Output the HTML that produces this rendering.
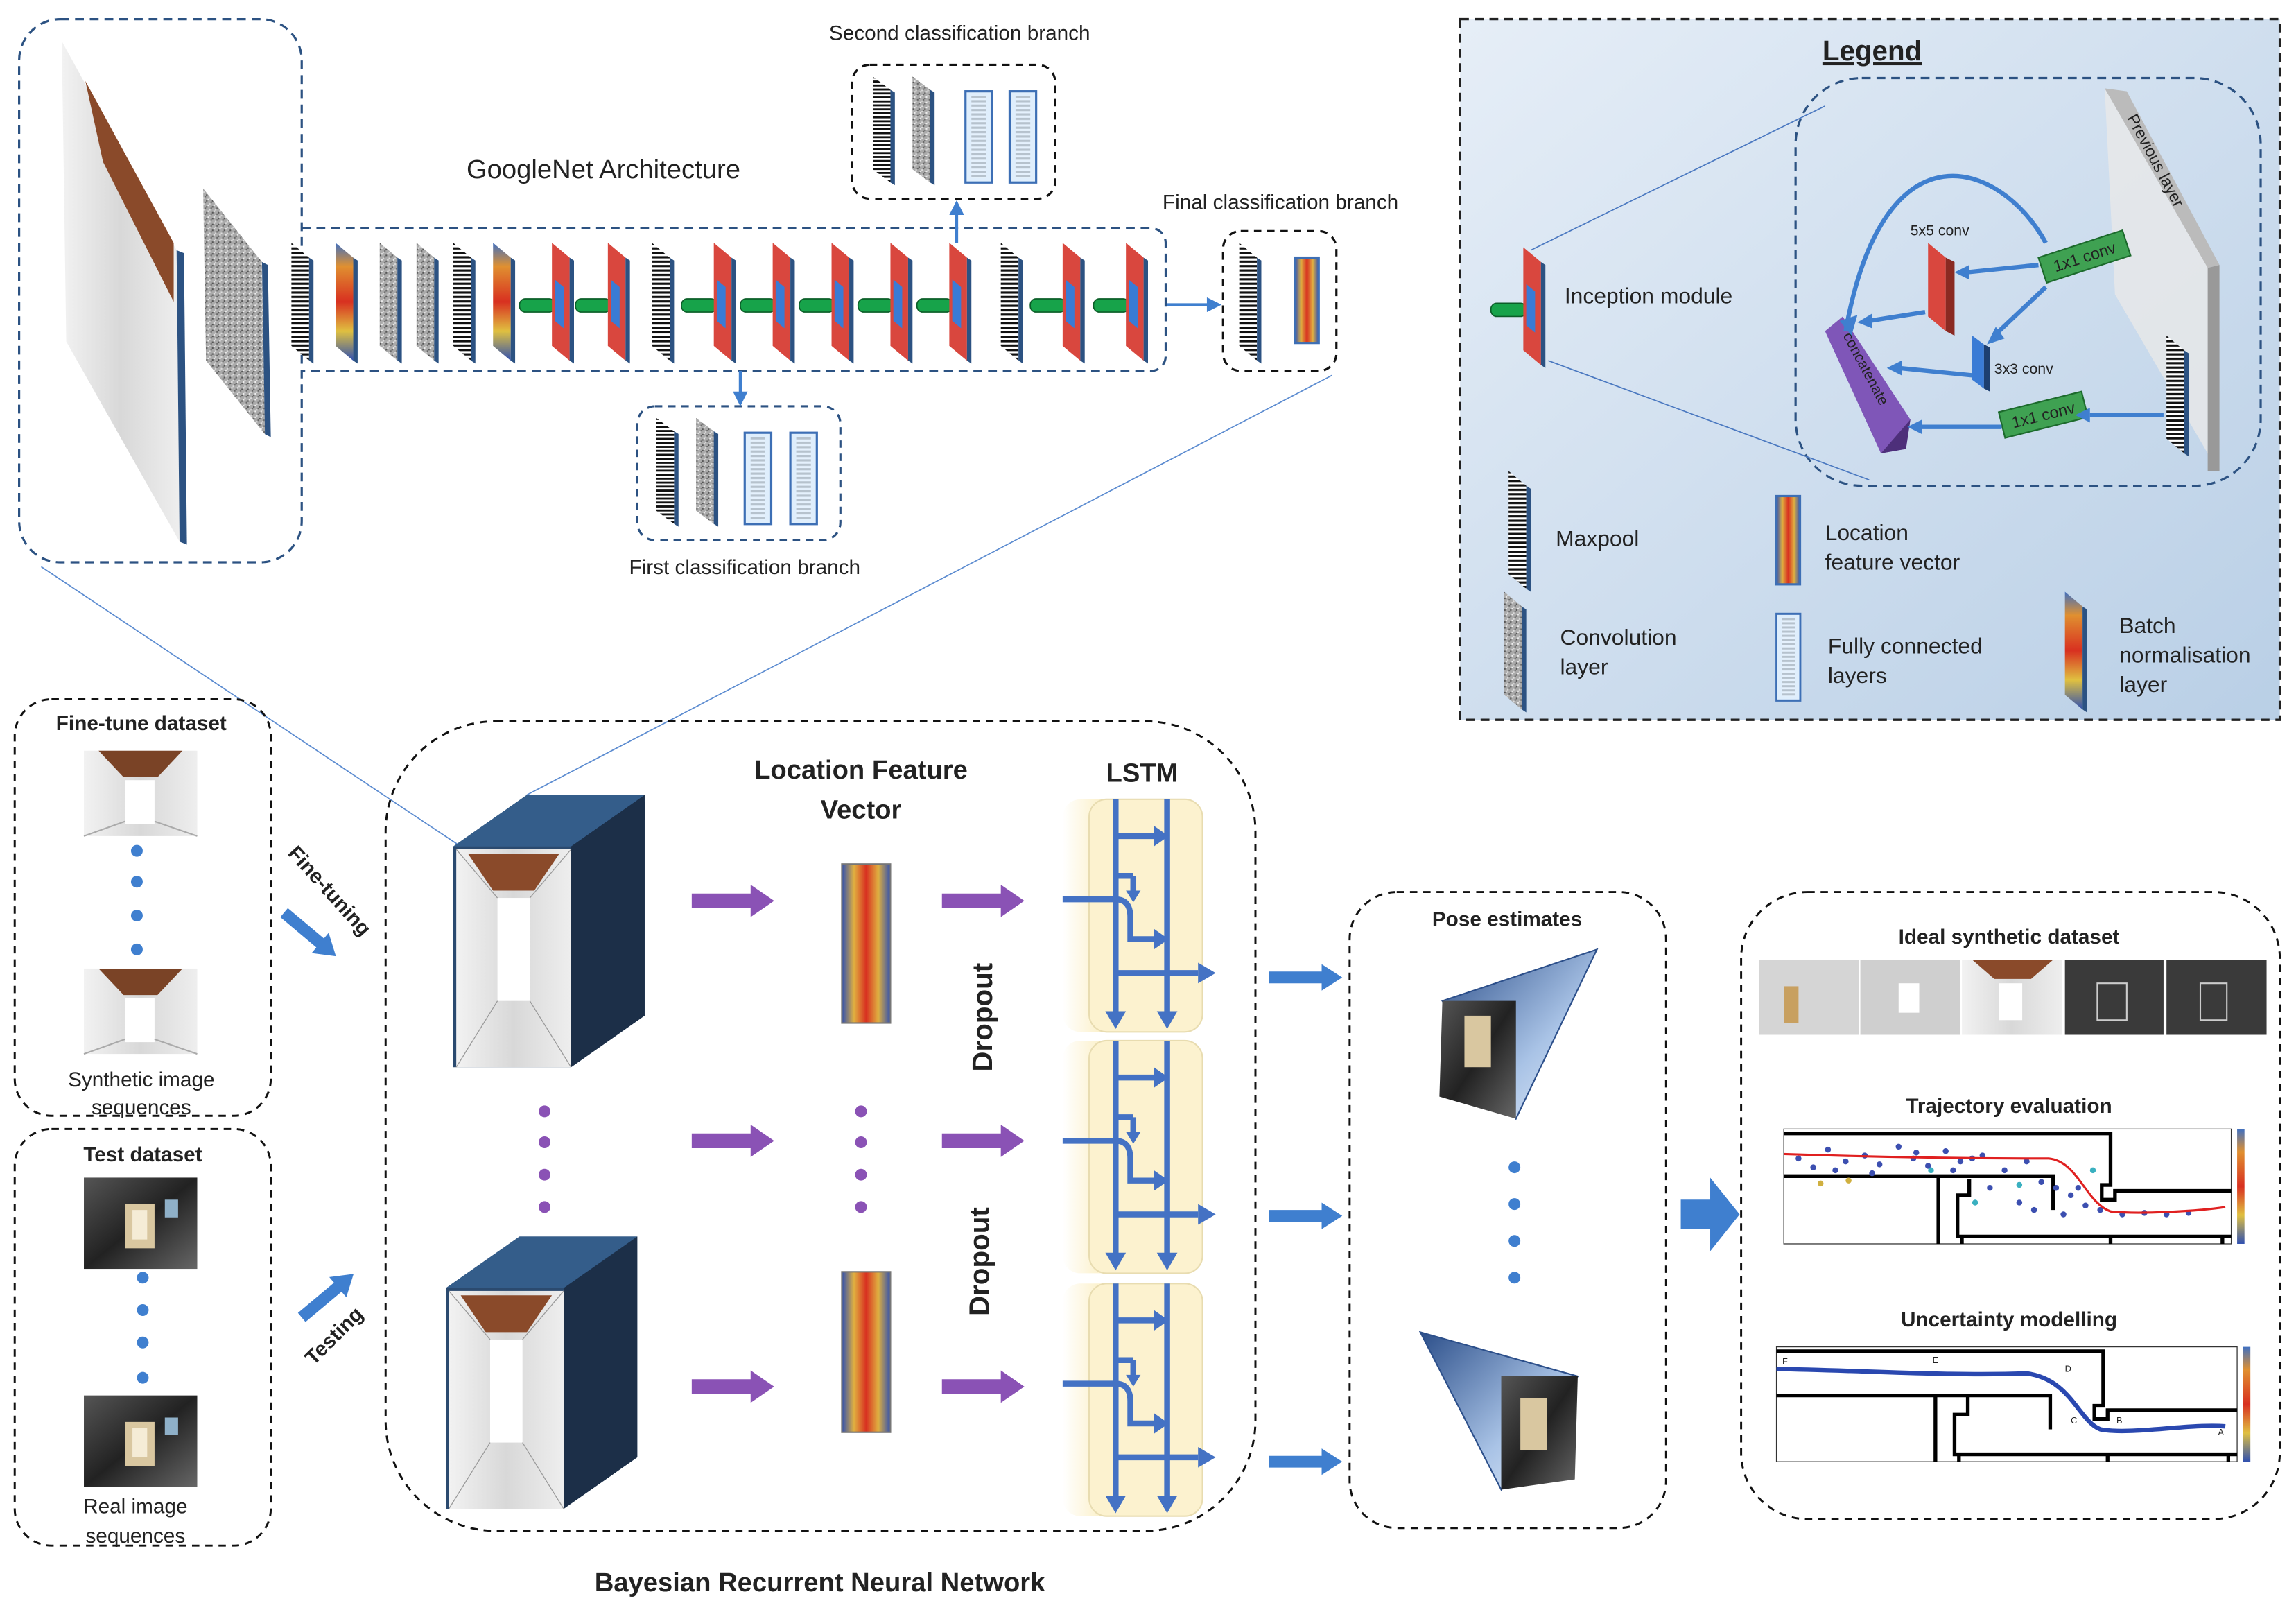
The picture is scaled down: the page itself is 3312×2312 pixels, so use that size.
<!DOCTYPE html>
<html><head><meta charset="utf-8"><style>
html,body{margin:0;padding:0;background:#fff}
svg{display:block}
text{font-family:"Liberation Sans",sans-serif;fill:#222}
.b{font-weight:bold}
</style></head><body>
<svg width="3312" height="2312" viewBox="0 0 1560 1089" preserveAspectRatio="none" xmlns="http://www.w3.org/2000/svg">
<defs>
<pattern id="stripe" width="4" height="3" patternUnits="userSpaceOnUse"><rect width="4" height="3" fill="#fff"/><rect width="4" height="1.5" fill="#111"/></pattern>
<pattern id="noise" width="4" height="4" patternUnits="userSpaceOnUse"><rect width="4" height="4" fill="#aaa"/><rect width="1" height="1" fill="#555"/><rect x="2" y="2" width="1" height="1" fill="#ddd"/><rect x="3" y="1" width="1" height="1" fill="#666"/><rect x="1" y="3" width="1" height="1" fill="#eee"/></pattern>
<linearGradient id="heath" x1="0" y1="0" x2="1" y2="0"><stop offset="0" stop-color="#3050b0"/><stop offset="0.25" stop-color="#e0b040"/><stop offset="0.5" stop-color="#d83020"/><stop offset="0.75" stop-color="#e0b040"/><stop offset="1" stop-color="#3050b0"/></linearGradient>
<linearGradient id="heatv" x1="0" y1="0" x2="0" y2="1"><stop offset="0" stop-color="#4070c0"/><stop offset="0.2" stop-color="#e09030"/><stop offset="0.5" stop-color="#d83020"/><stop offset="0.75" stop-color="#e0c040"/><stop offset="1" stop-color="#3050b0"/></linearGradient>
<linearGradient id="leg" x1="0" y1="0" x2="1" y2="1"><stop offset="0" stop-color="#e6eef7"/><stop offset="1" stop-color="#b9cfe6"/></linearGradient>
<linearGradient id="corr" x1="0" y1="0" x2="1" y2="0"><stop offset="0" stop-color="#f2f2f2"/><stop offset="0.5" stop-color="#d8d8d8"/><stop offset="1" stop-color="#eeeeee"/></linearGradient>
<linearGradient id="dark" x1="0" y1="0" x2="1" y2="1"><stop offset="0" stop-color="#555"/><stop offset="0.5" stop-color="#222"/><stop offset="1" stop-color="#666"/></linearGradient>
<linearGradient id="pyr" x1="0" y1="0" x2="1" y2="1"><stop offset="0" stop-color="#2c4f8a"/><stop offset="0.6" stop-color="#a9c3e6"/><stop offset="1" stop-color="#e8f0fa"/></linearGradient>
<linearGradient id="cream" x1="0" y1="0" x2="1" y2="0"><stop offset="0" stop-color="#fff"/><stop offset="0.25" stop-color="#fcf2cf"/><stop offset="1" stop-color="#fcf2cf"/></linearGradient>
<g id="mp"><polygon points="0,0 12,10 12,80 0,70" fill="url(#stripe)"/><polygon points="12,10 15,12 15,82 12,80" fill="#2c5282"/></g>
<g id="cv"><polygon points="0,0 12,10 12,80 0,70" fill="url(#noise)"/><polygon points="12,10 15,12 15,82 12,80" fill="#2c5282"/></g>
<g id="bn"><polygon points="0,0 12,10 12,80 0,70" fill="url(#heatv)"/><polygon points="12,10 15,12 15,82 12,80" fill="#2c5282"/></g>
<g id="inc"><rect x="-22" y="38" width="24" height="9" rx="4" fill="#17a34a" stroke="#0b5e28" stroke-width="0.8"/><polygon points="0,0 12,10 12,80 0,70" fill="#d9473e"/><polygon points="2,25 8,30 8,58 2,53" fill="#3a7bd5"/><polygon points="12,10 15,12 15,82 12,80" fill="#2c5282"/></g>
<g id="fc"><rect x="0" y="0" width="18" height="62" fill="#dfeefc" stroke="#3d6fb5" stroke-width="1.5"/><rect x="4" y="3" width="10" height="56" fill="url(#stripe)" opacity="0.2"/></g>
<g id="barr"><polygon points="0,-4 36,-4 36,-9 50,0 36,9 36,4 0,4" fill="#3f7fcf"/></g>
<g id="parr"><polygon points="0,-5 40,-5 40,-11 56,0 40,11 40,5 0,5" fill="#8a52b5"/></g>
<g id="cube"><polygon points="0,35 50,0 130,0 130,150 80,185 0,185" fill="#2b4a6f"/><polygon points="80,35 130,0 130,150 80,185" fill="#1c2f48"/><polygon points="0,35 50,0 130,0 80,35" fill="#345d8a"/><rect x="2" y="37" width="78" height="148" fill="url(#corr)"/><polygon points="10,40 72,40 55,65 27,65" fill="#8a4a2a"/><rect x="30" y="70" width="22" height="70" fill="#fff"/><line x1="2" y1="37" x2="30" y2="70" stroke="#999" stroke-width="0.6"/><line x1="80" y1="37" x2="52" y2="70" stroke="#999" stroke-width="0.6"/><line x1="2" y1="185" x2="30" y2="140" stroke="#999" stroke-width="0.6"/><line x1="80" y1="185" x2="52" y2="140" stroke="#999" stroke-width="0.6"/></g>
<g id="synimg"><rect width="77" height="58" fill="url(#corr)"/><polygon points="10,0 67,0 50,18 27,18" fill="#7a4326"/><rect x="28" y="20" width="20" height="30" fill="#fff"/><line x1="0" y1="58" x2="28" y2="48" stroke="#aaa"/><line x1="77" y1="58" x2="48" y2="48" stroke="#aaa"/></g>
<g id="realimg"><rect width="77" height="62" fill="url(#dark)"/><rect x="28" y="18" width="20" height="30" fill="#d9c7a0"/><rect x="33" y="22" width="10" height="20" fill="#f5ecd6"/><rect x="55" y="15" width="9" height="12" fill="#8fb0c8"/></g>
<g id="lstm"><rect x="0" y="0" width="95" height="158" rx="12" fill="url(#cream)"/><rect x="18" y="0" width="77" height="158" rx="12" fill="#fcf2cf" stroke="#e8dcb0" stroke-width="1"/>
<g stroke="#4472c4" stroke-width="4" fill="none"><line x1="36" y1="0" x2="36" y2="146"/><line x1="71" y1="0" x2="71" y2="146"/><line x1="36" y1="25" x2="62" y2="25"/><line x1="36" y1="52" x2="48" y2="52"/><path d="M0,68 H36 Q46,68 46,80 V95 H62"/><line x1="36" y1="118" x2="92" y2="118"/><path d="M48,52 V65"/></g>
<g fill="#4472c4"><polygon points="62,18 72,25 62,32"/><polygon points="62,88 72,95 62,102"/><polygon points="43,62 48,70 53,62"/><polygon points="29,144 36,156 43,144"/><polygon points="64,144 71,156 78,144"/><polygon points="92,111 104,118 92,125"/></g></g>
</defs>

<rect x="13" y="13" width="192" height="369" rx="28" fill="none" stroke="#2c5282" stroke-width="1.5" stroke-dasharray="6,4"/>
<polygon points="42,28 120,170 122,368 45,232" fill="url(#corr)"/>
<polygon points="58,55 118,165 118,205 70,110" fill="#8a4a2a"/>
<polygon points="120,170 125,172 127,370 122,368" fill="#2c5282"/>
<polygon points="138,128 178,178 180,295 140,245" fill="url(#noise)"/>
<polygon points="178,178 182,180 184,297 180,295" fill="#2c5282"/>
<path d="M205,155 H782 a10,10 0 0 1 10,10 V242 a10,10 0 0 1 -10,10 H205" fill="none" stroke="#2c5282" stroke-width="1.5" stroke-dasharray="6,4"/>
<text x="410" y="121" font-size="18" text-anchor="middle">GoogleNet Architecture</text>
<use href="#mp" x="198" y="165"/><use href="#bn" x="228" y="165"/><use href="#cv" x="258" y="165"/><use href="#cv" x="283" y="165"/><use href="#mp" x="308" y="165"/><use href="#bn" x="335" y="165"/>
<use href="#inc" x="375" y="165"/><use href="#inc" x="413" y="165"/><use href="#mp" x="443" y="165"/><use href="#inc" x="485" y="165"/><use href="#inc" x="525" y="165"/><use href="#inc" x="565" y="165"/><use href="#inc" x="605" y="165"/><use href="#inc" x="645" y="165"/><use href="#mp" x="680" y="165"/><use href="#inc" x="722" y="165"/><use href="#inc" x="765" y="165"/>
<text x="652" y="27" font-size="14" text-anchor="middle">Second classification branch</text>
<rect x="579" y="44" width="138" height="91" rx="12" fill="none" stroke="#111" stroke-width="1.5" stroke-dasharray="5,4"/>
<g transform="translate(593,52) scale(1,0.9)"><use href="#mp"/></g><g transform="translate(620,52) scale(1,0.9)"><use href="#cv"/></g>
<use href="#fc" x="656" y="62"/><use href="#fc" x="686" y="62"/>
<line x1="650" y1="165" x2="650" y2="145" stroke="#3f7fcf" stroke-width="2"/><polygon points="645,146 650,136 655,146" fill="#3f7fcf"/>
<rect x="433" y="276" width="138" height="91" rx="12" fill="none" stroke="#2c5282" stroke-width="1.5" stroke-dasharray="5,4"/>
<g transform="translate(446,284) scale(1,0.9)"><use href="#mp"/></g><g transform="translate(473,284) scale(1,0.9)"><use href="#cv"/></g>
<use href="#fc" x="506" y="294"/><use href="#fc" x="537" y="294"/>
<line x1="503" y1="252" x2="503" y2="268" stroke="#3f7fcf" stroke-width="2"/><polygon points="498,266 503,276 508,266" fill="#3f7fcf"/>
<text x="506" y="390" font-size="14" text-anchor="middle">First classification branch</text>
<text x="870" y="142" font-size="14" text-anchor="middle">Final classification branch</text>
<rect x="831" y="157" width="77" height="95" rx="12" fill="none" stroke="#111" stroke-width="1.5" stroke-dasharray="5,4"/>
<use href="#mp" x="842" y="165"/>
<rect x="880" y="175" width="16" height="58" fill="url(#heath)" stroke="#3d6fb5" stroke-width="1.5"/>
<line x1="793" y1="207" x2="822" y2="207" stroke="#3f7fcf" stroke-width="2"/><polygon points="820,202 830,207 820,212" fill="#3f7fcf"/>
<line x1="28" y1="385" x2="313" y2="575" stroke="#5b8bd0" stroke-width="0.8"/>
<line x1="358" y1="540" x2="905" y2="255" stroke="#5b8bd0" stroke-width="0.8"/>

<rect x="992" y="13" width="557" height="476" fill="url(#leg)" stroke="#222" stroke-width="1.6" stroke-dasharray="6,4"/>
<text x="1272" y="41" font-size="19" text-anchor="middle" class="b" text-decoration="underline">Legend</text>
<rect x="1220" y="53" width="316" height="277" rx="45" fill="none" stroke="#2c5282" stroke-width="1.5" stroke-dasharray="6,4"/>
<line x1="1040" y1="170" x2="1240" y2="72" stroke="#4a78c0" stroke-width="0.8"/>
<line x1="1052" y1="245" x2="1270" y2="326" stroke="#4a78c0" stroke-width="0.8"/>
<use href="#inc" x="1035" y="168"/>
<text x="1063" y="206" font-size="15">Inception module</text>
<polygon points="1430,60 1500,180 1507,320 1437,200" fill="#e8e8e8" opacity="0.8"/>
<polygon points="1430,60 1445,62 1508,180 1500,182" fill="#bbb"/>
<polygon points="1500,182 1508,180 1508,320 1500,320" fill="#999"/>
<text transform="translate(1445,80) rotate(62)" font-size="11">Previous layer</text>
<use href="#mp" x="1472" y="228"/>
<polygon points="1310,165 1322,175 1322,225 1310,215" fill="#d9473e"/><polygon points="1322,175 1328,178 1328,228 1322,225" fill="#8a2a22"/>
<text x="1298" y="160" font-size="10">5x5 conv</text>
<g transform="translate(1385,175) rotate(-18)"><rect width="60" height="18" fill="#3fa152" stroke="#1c6a2c"/><text x="30" y="13" font-size="11" text-anchor="middle">1x1 conv</text></g>
<g transform="translate(1358,280) rotate(-14)"><rect width="58" height="18" fill="#3fa152" stroke="#1c6a2c"/><text x="29" y="13" font-size="11" text-anchor="middle">1x1 conv</text></g>
<polygon points="1340,228 1348,234 1348,264 1340,258" fill="#3a7bd5"/><polygon points="1348,234 1352,236 1352,266 1348,264" fill="#1d3f70"/>
<text x="1355" y="254" font-size="10">3x3 conv</text>
<polygon points="1240,225 1252,215 1298,285 1295,305 1278,308" fill="#7f56b8"/><polygon points="1278,308 1295,305 1298,285" fill="#4d2f7a"/>
<text transform="translate(1252,228) rotate(62)" font-size="10">concatenate</text>
<g stroke="#3f7fcf" stroke-width="3" fill="none">
<path d="M1254,225 C1280,80 1360,110 1390,165"/>
<line x1="1470" y1="282" x2="1420" y2="282"/><line x1="1360" y1="290" x2="1305" y2="290"/><line x1="1390" y1="195" x2="1355" y2="228"/><line x1="1385" y1="180" x2="1336" y2="185"/><line x1="1340" y1="255" x2="1290" y2="250"/><line x1="1308" y1="212" x2="1270" y2="218"/></g>
<g fill="#3f7fcf"><polygon points="1250,218 1258,228 1262,214"/><polygon points="1420,277 1410,282 1420,287"/><polygon points="1306,285 1296,290 1306,295"/><polygon points="1356,222 1350,234 1362,230"/><polygon points="1338,180 1328,185 1338,190"/><polygon points="1292,245 1282,250 1292,255"/><polygon points="1272,213 1262,219 1272,223"/></g>
<use href="#mp" x="1025" y="320"/><text x="1057" y="371" font-size="15">Maxpool</text>
<use href="#cv" x="1022" y="402"/><text x="1060" y="438" font-size="15">Convolution</text><text x="1060" y="458" font-size="15">layer</text>
<rect x="1207" y="337" width="16" height="60" fill="url(#heath)" stroke="#3d6fb5" stroke-width="1.5"/><text x="1240" y="367" font-size="15">Location</text><text x="1240" y="387" font-size="15">feature vector</text>
<g transform="translate(1207,417) scale(0.9,0.95)"><use href="#fc"/></g><text x="1242" y="444" font-size="15">Fully connected</text><text x="1242" y="464" font-size="15">layers</text>
<use href="#bn" x="1403" y="402"/><text x="1440" y="430" font-size="15">Batch</text><text x="1440" y="450" font-size="15">normalisation</text><text x="1440" y="470" font-size="15">layer</text>

<rect x="10" y="475" width="174" height="283" rx="25" fill="none" stroke="#111" stroke-width="1.4" stroke-dasharray="5,4"/>
<text x="96" y="496" font-size="14" class="b" text-anchor="middle">Fine-tune dataset</text>
<use href="#synimg" x="57" y="510"/>
<g fill="#3f7fcf"><circle cx="93" cy="578" r="4"/><circle cx="93" cy="599" r="4"/><circle cx="93" cy="622" r="4"/><circle cx="93" cy="645" r="4"/></g>
<use href="#synimg" x="57" y="658"/>
<text x="96" y="738" font-size="14" text-anchor="middle">Synthetic image</text><text x="96" y="757" font-size="14" text-anchor="middle">sequences</text>
<rect x="10" y="767" width="174" height="283" rx="25" fill="none" stroke="#111" stroke-width="1.4" stroke-dasharray="5,4"/>
<text x="97" y="789" font-size="14" class="b" text-anchor="middle">Test dataset</text>
<use href="#realimg" x="57" y="800"/>
<g fill="#3f7fcf"><circle cx="97" cy="868" r="4"/><circle cx="97" cy="890" r="4"/><circle cx="97" cy="912" r="4"/><circle cx="97" cy="936" r="4"/></g>
<use href="#realimg" x="57" y="948"/>
<text x="92" y="1028" font-size="14" text-anchor="middle">Real image</text><text x="92" y="1048" font-size="14" text-anchor="middle">sequences</text>
<text transform="translate(195,580) rotate(48)" font-size="14" class="b">Fine-tuning</text>
<g transform="translate(193,620) rotate(40)"><polygon points="0,-4 32,-4 32,-9 46,0 32,9 32,4 0,4" fill="#3f7fcf"/></g>
<g transform="translate(205,895) rotate(-40)"><polygon points="0,-4 32,-4 32,-9 46,0 32,9 32,4 0,4" fill="#3f7fcf"/></g>
<text transform="translate(213,928) rotate(-45)" font-size="14" class="b">Testing</text>

<rect x="262" y="490" width="591" height="550" rx="75" fill="none" stroke="#111" stroke-width="1.4" stroke-dasharray="5,4"/>
<text x="420" y="557" font-size="18" class="b" text-anchor="middle">CNN</text>
<text x="585" y="529" font-size="18" class="b" text-anchor="middle">Location Feature</text>
<text x="585" y="556" font-size="18" class="b" text-anchor="middle">Vector</text>
<text x="776" y="531" font-size="18" class="b" text-anchor="middle">LSTM</text>
<use href="#cube" x="308" y="540"/>
<use href="#cube" x="303" y="840"/>
<g fill="#8a52b5"><circle cx="370" cy="755" r="4"/><circle cx="370" cy="776" r="4"/><circle cx="370" cy="798" r="4"/><circle cx="370" cy="820" r="4"/><circle cx="585" cy="755" r="4"/><circle cx="585" cy="776" r="4"/><circle cx="585" cy="798" r="4"/><circle cx="585" cy="820" r="4"/></g>
<use href="#parr" x="470" y="612"/><use href="#parr" x="470" y="775"/><use href="#parr" x="470" y="942"/>
<use href="#parr" x="640" y="612"/><use href="#parr" x="640" y="775"/><use href="#parr" x="640" y="942"/>
<rect x="572" y="587" width="33" height="108" fill="url(#heath)" stroke="#777" stroke-width="1"/>
<rect x="572" y="864" width="33" height="109" fill="url(#heath)" stroke="#777" stroke-width="1"/>
<text transform="translate(674,728) rotate(-90)" font-size="19" class="b">Dropout</text>
<text transform="translate(672,894) rotate(-90)" font-size="19" class="b">Dropout</text>
<use href="#lstm" x="722" y="543"/>
<use href="#lstm" x="722" y="707"/>
<use href="#lstm" x="722" y="872"/>
<use href="#barr" x="862" y="664"/><use href="#barr" x="862" y="826"/><use href="#barr" x="862" y="993"/>
<text x="557" y="1081" font-size="18" class="b" text-anchor="middle">Bayesian Recurrent Neural Network</text>

<rect x="917" y="606" width="215" height="432" rx="32" fill="none" stroke="#111" stroke-width="1.4" stroke-dasharray="5,4"/>
<text x="1024" y="629" font-size="14" class="b" text-anchor="middle">Pose estimates</text>
<polygon points="980,680 1085,645 1030,760" fill="url(#pyr)" stroke="#2c4f8a"/>
<polygon points="980,680 1030,680 1030,760 978,745" fill="url(#dark)"/>
<rect x="995" y="690" width="18" height="35" fill="#d9c7a0"/>
<g fill="#3f7fcf"><circle cx="1029" cy="793" r="4"/><circle cx="1029" cy="818" r="4"/><circle cx="1029" cy="843" r="4"/><circle cx="1029" cy="868" r="4"/></g>
<polygon points="965,905 1072,935 1020,1012" fill="url(#pyr)" stroke="#2c4f8a"/>
<polygon points="1020,935 1072,935 1070,1005 1020,1012" fill="url(#dark)"/>
<rect x="1033" y="950" width="18" height="35" fill="#d9c7a0"/>
<polygon points="1142,815 1162,815 1162,800 1182,825 1162,850 1162,835 1142,835" fill="#3f7fcf"/>

<rect x="1183" y="606" width="366" height="426" rx="45" fill="none" stroke="#111" stroke-width="1.4" stroke-dasharray="5,4"/>
<text x="1365" y="641" font-size="14" class="b" text-anchor="middle">Ideal synthetic dataset</text>
<rect x="1195" y="652" width="68" height="51" fill="#d5d5d5"/><rect x="1212" y="670" width="10" height="25" fill="#c8a060"/>
<rect x="1264" y="652" width="68" height="51" fill="#cfcfcf"/><rect x="1290" y="668" width="14" height="20" fill="#fff"/>
<rect x="1333" y="652" width="68" height="51" fill="url(#corr)"/><polygon points="1340,652 1395,652 1380,665 1355,665" fill="#8a4a2a"/><rect x="1358" y="668" width="16" height="25" fill="#fff"/>
<rect x="1403" y="652" width="67" height="51" fill="#3a3a3a"/><rect x="1425" y="668" width="20" height="25" fill="none" stroke="#ccc"/>
<rect x="1472" y="652" width="68" height="51" fill="#3a3a3a"/><rect x="1495" y="668" width="18" height="25" fill="none" stroke="#ccc"/>
<text x="1365" y="756" font-size="14" class="b" text-anchor="middle">Trajectory evaluation</text>
<g transform="translate(1212,767)">
<rect width="304" height="78" fill="#fff" stroke="#333" stroke-width="0.6"/>
<g stroke="#000" stroke-width="2.5" fill="none"><path d="M0,3 H222 V38 H216 V48 H225 V42 H304"/><path d="M0,32 H183 V55"/><path d="M105,32 V78"/><path d="M126,34 V45 H118 V73 H304"/><path d="M121,73 V78"/><path d="M222,73 V78"/><path d="M298,73 V78"/></g>
<g fill="#3c4fb0">
<circle cx="10" cy="20" r="2"/><circle cx="20" cy="26" r="2"/><circle cx="30" cy="14" r="2"/><circle cx="42" cy="22" r="2"/><circle cx="55" cy="18" r="2"/><circle cx="65" cy="24" r="2"/><circle cx="78" cy="12" r="2"/><circle cx="88" cy="20" r="2"/><circle cx="98" cy="25" r="2"/><circle cx="110" cy="15" r="2"/><circle cx="120" cy="22" r="2"/><circle cx="135" cy="18" r="2"/><circle cx="150" cy="28" r="2"/><circle cx="165" cy="22" r="2"/><circle cx="175" cy="36" r="2"/><circle cx="185" cy="40" r="2"/><circle cx="195" cy="45" r="2"/><circle cx="205" cy="52" r="2"/><circle cx="215" cy="55" r="2"/><circle cx="230" cy="58" r="2"/><circle cx="245" cy="57" r="2"/><circle cx="260" cy="58" r="2"/><circle cx="275" cy="57" r="2"/><circle cx="190" cy="58" r="2"/><circle cx="200" cy="40" r="2"/><circle cx="160" cy="50" r="2"/><circle cx="140" cy="40" r="2"/><circle cx="170" cy="55" r="2"/><circle cx="60" cy="30" r="2"/><circle cx="35" cy="28" r="2"/><circle cx="115" cy="28" r="2"/><circle cx="128" cy="20" r="2"/><circle cx="90" cy="16" r="2"/></g>
<g fill="#3ab0c0"><circle cx="100" cy="28" r="2"/><circle cx="130" cy="50" r="2"/><circle cx="210" cy="28" r="2"/><circle cx="160" cy="38" r="2"/></g>
<g fill="#d0b040"><circle cx="44" cy="35" r="2"/><circle cx="25" cy="37" r="2"/></g>
<path d="M0,17 C60,19 120,20 180,20 C200,22 205,50 222,56 C240,58 280,56 300,53" stroke="#e02020" stroke-width="1.5" fill="none"/>
<rect x="308" y="0" width="5" height="78" fill="url(#heatv)"/>
</g>
<text x="1365" y="901" font-size="14" class="b" text-anchor="middle">Uncertainty modelling</text>
<g transform="translate(1207,915)">
<rect width="313" height="78" fill="#fff" stroke="#333" stroke-width="0.6"/>
<g stroke="#000" stroke-width="2.5" fill="none"><path d="M0,3 H222 V40 H216 V49 H225 V43 H313"/><path d="M0,33 H186 V56"/><path d="M108,33 V78"/><path d="M130,34 V46 H121 V73 H313"/><path d="M124,73 V78"/><path d="M225,73 V78"/><path d="M307,73 V78"/></g>
<path d="M0,15 C60,16 120,20 170,18 C200,22 205,50 220,56 C240,60 280,52 305,54" stroke="#2a48b0" stroke-width="3" fill="none"/>
<text x="4" y="12" font-size="6" font-family="Liberation Serif">F</text><text x="106" y="11" font-size="6" font-family="Liberation Serif">E</text><text x="196" y="17" font-size="6" font-family="Liberation Serif">D</text><text x="200" y="52" font-size="6" font-family="Liberation Serif">C</text><text x="231" y="52" font-size="6" font-family="Liberation Serif">B</text><text x="300" y="60" font-size="6" font-family="Liberation Serif">A</text>
<rect x="317" y="0" width="5" height="78" fill="url(#heatv)"/>
</g>
</svg>
</body></html>
